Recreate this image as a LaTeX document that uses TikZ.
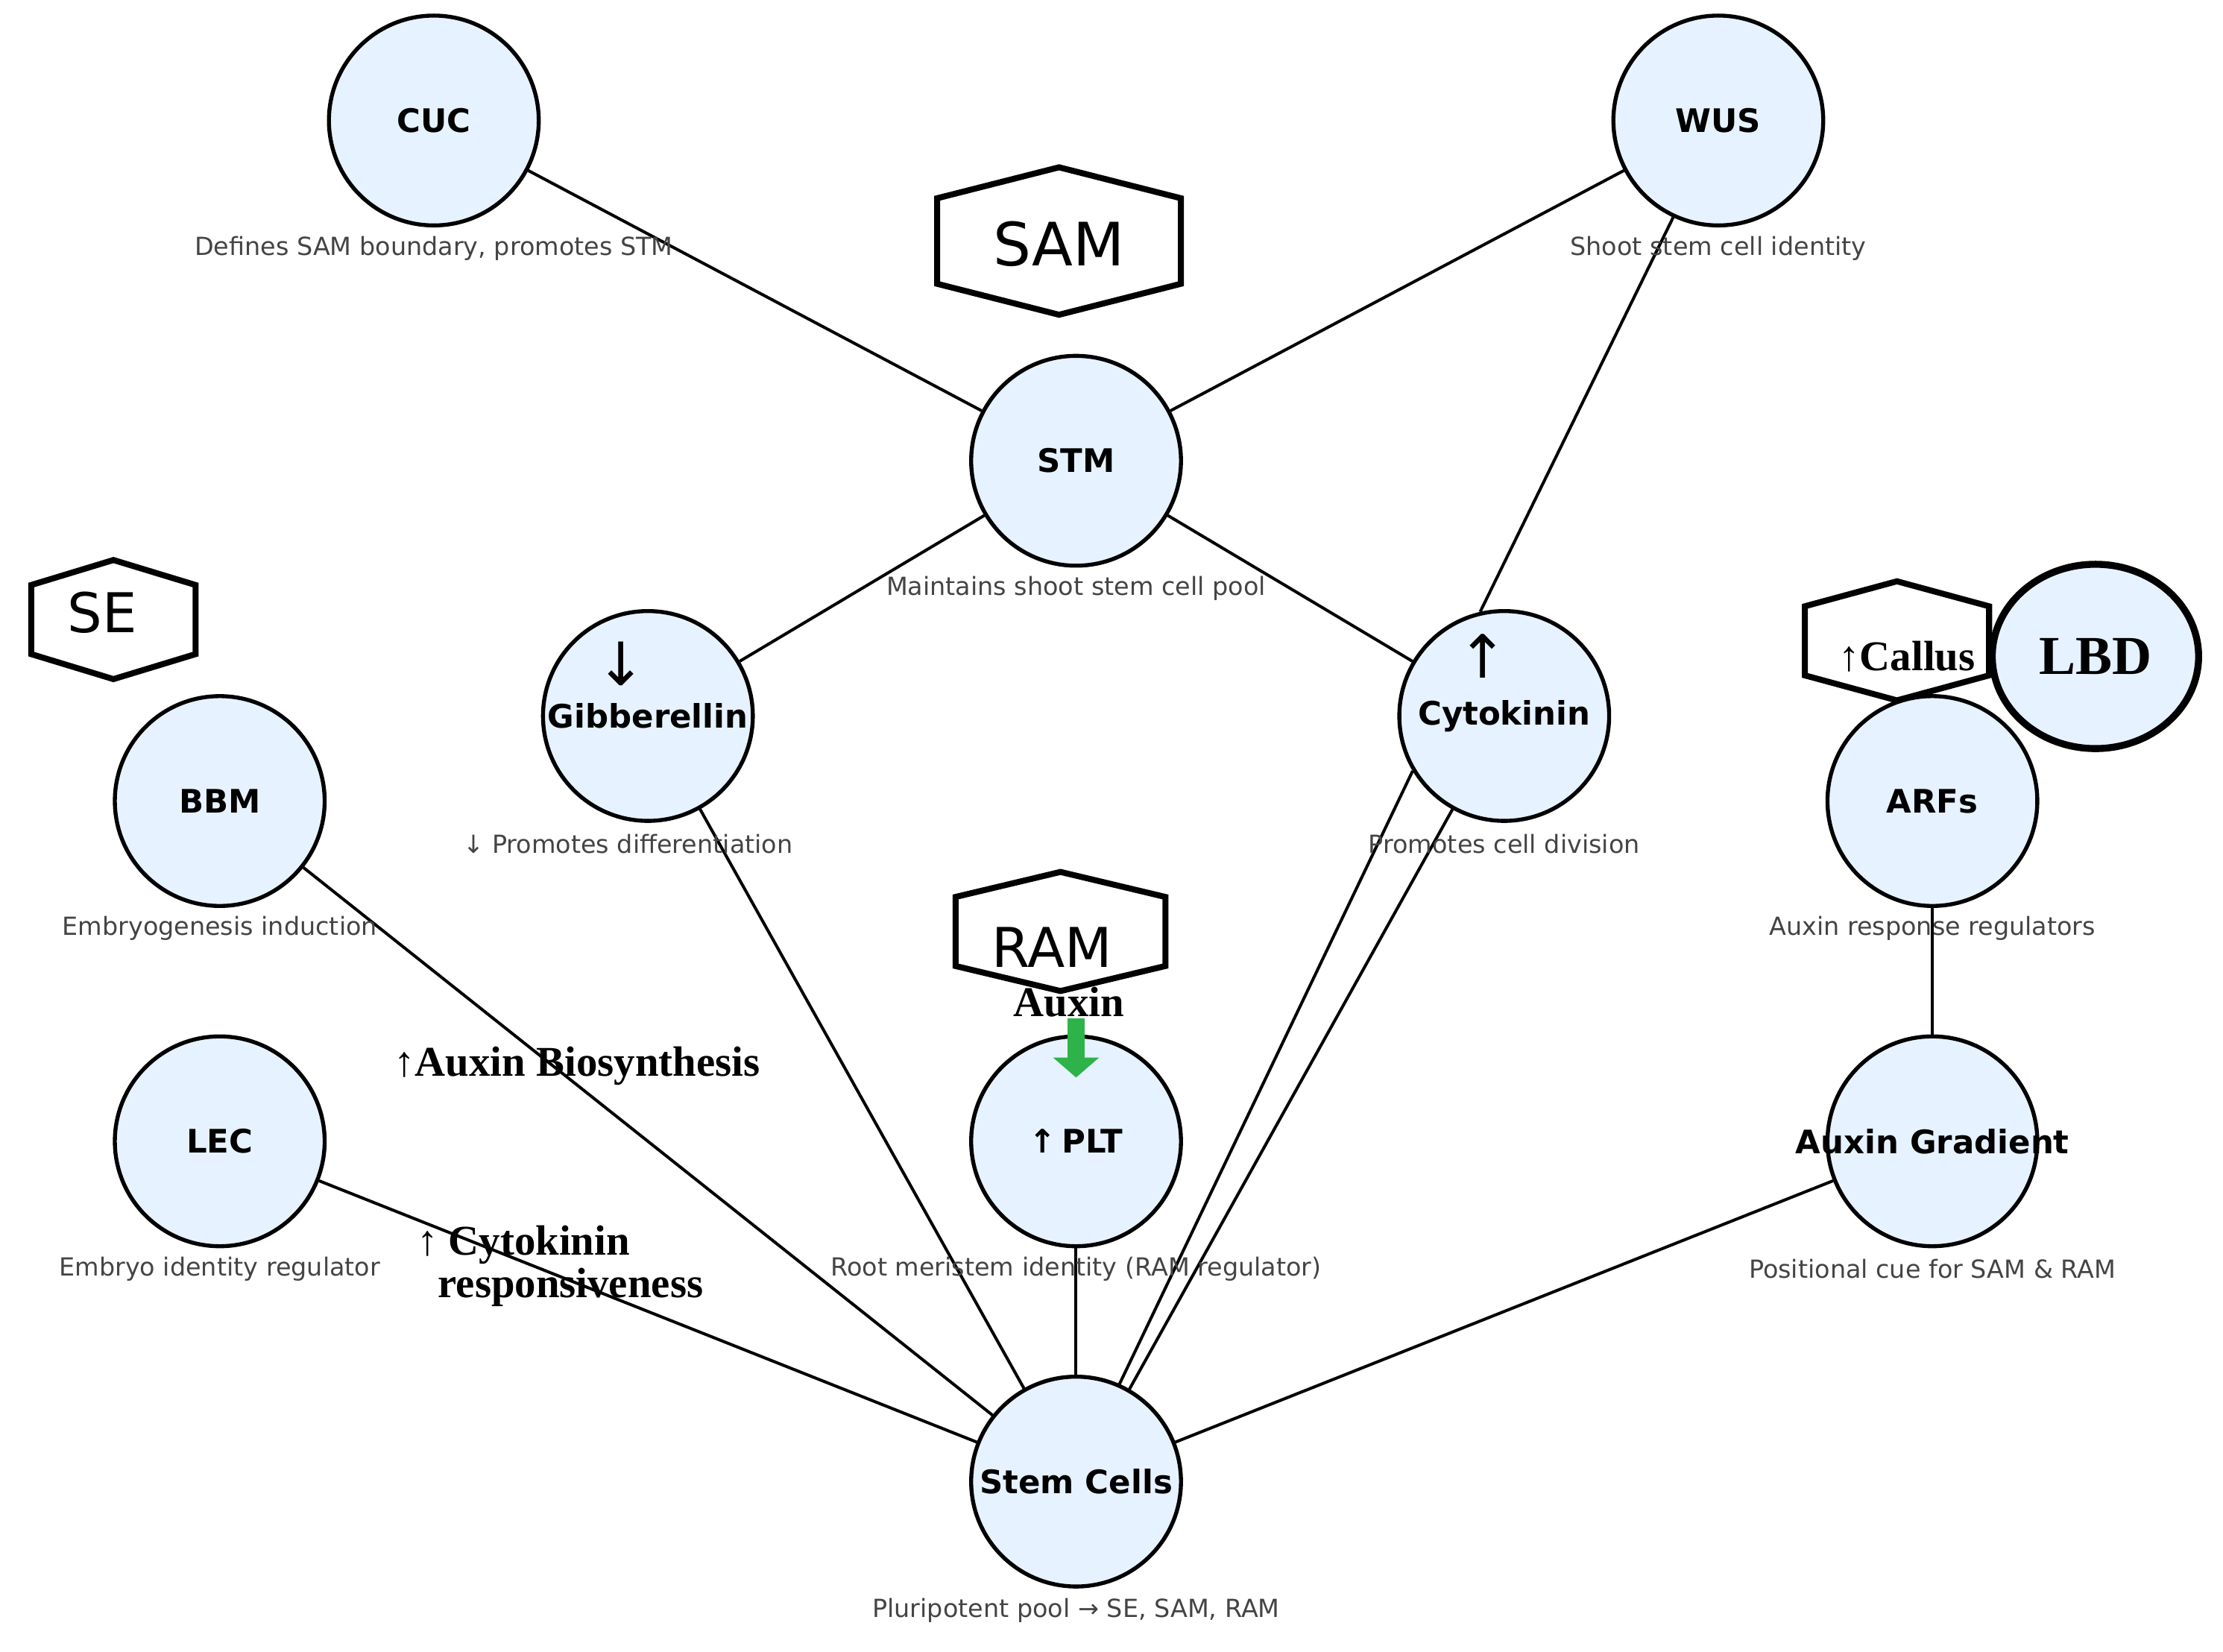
\documentclass[tikz,border=0pt]{standalone}
\usepackage{fontspec}
\setmainfont{DejaVu Sans}
\newfontfamily\labelfont{Liberation Serif}
\usetikzlibrary{arrows.meta,shapes.geometric}
\definecolor{nodefill}{HTML}{E6F2FF}
\definecolor{desctext}{HTML}{444444}
\definecolor{auxgreen}{HTML}{2DB34A}
\tikzset{
  gene/.style={circle,draw,thick,fill=nodefill,minimum size=1.48cm,inner sep=0pt,
    font=\fontsize{6.5}{7}\selectfont\bfseries},
  desc/.style={text=desctext,font=\fontsize{5}{6}\selectfont},
  link/.style={semithick},
  tag/.style={font=\labelfont\fontsize{8.5}{9.5}\selectfont\bfseries,align=left},
  hex/.style={very thick}
}
% pointy-top hexagon: centre x, centre y, half width, half height
\newcommand{\hexat}[4]{%
  \draw[hex,fill=white] (#1,#2+#4) -- (#1+#3,#2+0.58*#4) -- (#1+#3,#2-0.58*#4)
    -- (#1,#2-#4) -- (#1-#3,#2-0.58*#4) -- (#1-#3,#2+0.58*#4) -- cycle;}
\begin{document}
\begin{tikzpicture}
\useasboundingbox (0,0) rectangle (15.68,11.65);
% hexagon labels
\hexat{7.47}{9.95}{0.86}{0.52}
\node[font=\fontsize{12}{13}\selectfont] (samlabel) at (7.47,9.93) {SAM};
\hexat{0.80}{7.28}{0.58}{0.42}
\node[font=\fontsize{11}{12}\selectfont] (selabel) at (0.72,7.33) {SE};
\hexat{7.48}{5.08}{0.74}{0.42}
\node[font=\fontsize{11}{12}\selectfont] (ramlabel) at (7.42,4.97) {RAM};
% genes
\node[gene] (cuc) at (3.06,10.80) {CUC};
\node[gene] (wus) at (12.12,10.80) {WUS};
\node[gene] (stm) at (7.59,8.40) {STM};
\node[gene] (gib) at (4.57,6.60) {Gibberellin};
\node[gene] (cyto) at (10.61,6.60) {Cytokinin};
\node[gene] (bbm) at (1.55,6.00) {BBM};
\node[gene] (arf) at (13.63,6.00) {ARFs};
\node[gene] (lec) at (1.55,3.60) {LEC};
\node[gene] (plt) at (7.59,3.60) {↑\,PLT};
\node[gene] (grad) at (13.63,3.60) {};
\node[font=\fontsize{6.5}{7}\selectfont\bfseries] (gradtext) at (grad) {Auxin Gradient};
\node[gene] (stem) at (7.59,1.20) {Stem Cells};
\node[font=\fontsize{12}{13}\selectfont] (gibdown) at (4.38,6.97) {↓};
\node[font=\fontsize{12}{13}\selectfont] (cytoup) at (10.46,7.02) {↑};
% connectors
\draw[link] (cuc) -- (stm);
\draw[link] (wus) -- (stm);
\draw[link] (wus.245) -- (cyto.103);
\draw[link] (stm) -- (gib);
\draw[link] (stm) -- (cyto);
\draw[link] (gib) -- (stem);
\draw[link] (cyto.211) -- (stem.66);
\draw[link] (cyto.241) -- (stem.60);
\draw[link] (bbm) -- (stem);
\draw[link] (lec) -- (stem);
\draw[link] (plt) -- (stem);
\draw[link] (grad) -- (stem);
\draw[link] (arf) -- (grad);
% descriptions
\node[desc] (cucd) at (3.06,9.90) {Defines SAM boundary, promotes STM};
\node[desc] (wusd) at (12.12,9.90) {Shoot stem cell identity};
\node[desc] (stmd) at (7.59,7.50) {Maintains shoot stem cell pool};
\node[desc] (gibd) at (4.43,5.70) {↓ Promotes differentiation};
\node[desc] (cytod) at (10.61,5.70) {Promotes cell division};
\node[desc] (bbmd) at (1.55,5.10) {Embryogenesis induction};
\node[desc] (arfd) at (13.63,5.10) {Auxin response regulators};
\node[desc] (lecd) at (1.55,2.70) {Embryo identity regulator};
\node[desc] (pltd) at (7.59,2.70) {Root meristem identity (RAM regulator)};
\node[desc] (gradd) at (13.63,2.70) {Positional cue for SAM \& RAM};
\node[desc] (stemd) at (7.59,0.29) {Pluripotent pool → SE, SAM, RAM};
% callus and LBD
\hexat{13.38}{7.13}{0.65}{0.42}
\node[tag] (callus) at (13.45,7.02) {↑Callus};
\node[draw,ellipse,line width=1.4pt,fill=nodefill,minimum width=1.42cm,minimum height=1.3cm,
  font=\labelfont\fontsize{11}{12}\selectfont\bfseries] (lbd) at (14.78,7.02) {LBD};
% auxin labels
\node[tag] (auxbio) at (4.07,4.13) {↑Auxin Biosynthesis};
\node[tag] (cytoresp) at (3.95,2.72) {↑ Cytokinin\\[-1pt]\ \ responsiveness};
\node[tag] (auxin) at (7.54,4.58) {Auxin};
\coordinate (auxtip) at (7.59,4.05);
\draw[auxgreen,line width=3.5pt,-{Triangle[length=4pt,width=9pt]}] (7.59,4.47) -- (auxtip);
\end{tikzpicture}
\end{document}
